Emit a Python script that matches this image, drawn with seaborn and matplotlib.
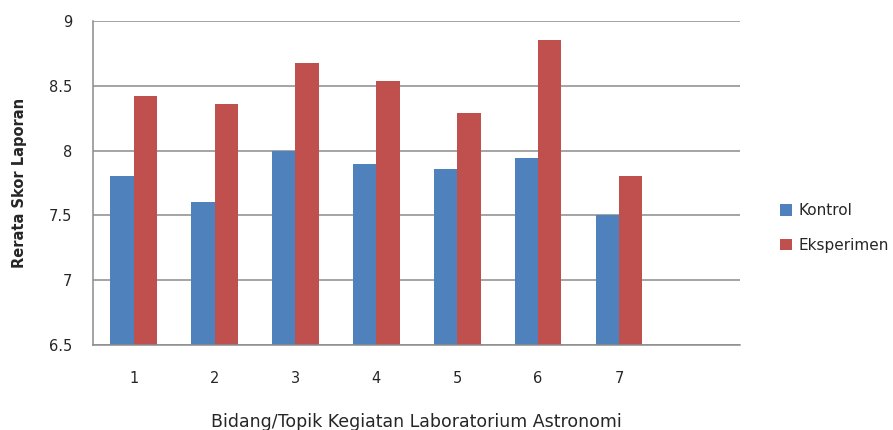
import matplotlib
matplotlib.use("Agg")
import matplotlib.pyplot as plt
import seaborn as sns
import pandas as pd
from matplotlib.patches import Patch

# Mean report scores per lab topic
topics = ["1", "2", "3", "4", "5", "6", "7"]
kontrol = [7.80, 7.60, 8.00, 7.90, 7.86, 7.94, 7.50]
eksperimen = [8.42, 8.36, 8.68, 8.54, 8.29, 8.85, 7.80]
groups = ["Kontrol", "Eksperimen"]
colors = ["#4F81BD", "#C0504D"]

df = pd.DataFrame({
    "Topik": topics * 2,
    "Skor": kontrol + eksperimen,
    "Kelompok": [groups[0]] * len(topics) + [groups[1]] * len(topics),
})

sns.set_style("white")
plt.rcParams["font.family"] = ["DejaVu Sans"]

fig = plt.figure(figsize=(8.93, 4.30), dpi=100)
ax = fig.add_axes([0.1045, 0.198, 0.7245, 0.753])

sns.barplot(data=df, x="Topik", y="Skor", hue="Kelompok", order=topics,
            hue_order=groups, palette=colors, width=0.576, saturation=1,
            edgecolor="none", ax=ax, legend=False)

ax.set_xlim(-0.5, 7.5)
ax.set_ylim(6.5, 9)
ax.set_yticks([6.5, 7, 7.5, 8, 8.5, 9])
ax.set_yticklabels(["6.5", "7", "7.5", "8", "8.5", "9"])
ax.yaxis.grid(True, color="#8C8C8C", linewidth=1.1)
ax.set_axisbelow(True)

for side in ["top", "right"]:
    ax.spines[side].set_visible(False)
for side in ["left", "bottom"]:
    ax.spines[side].set_color("#8C8C8C")
    ax.spines[side].set_linewidth(1.1)

ax.tick_params(axis="y", length=6, color="#8C8C8C", width=1.1, labelsize=10.5, pad=9)
ax.tick_params(axis="x", length=0, labelsize=10.5, pad=19)

ax.set_xlabel("Bidang/Topik Kegiatan Laboratorium Astronomi", fontsize=12.5, labelpad=19)
ax.set_ylabel("Rerata Skor Laporan", fontsize=10.5, fontweight="bold", labelpad=16)

handles = [Patch(facecolor=c, edgecolor="none") for c in colors]
fig.legend(handles, groups, loc="center left", bbox_to_anchor=(0.858, 0.47),
           frameon=False, fontsize=11, handlelength=0.8, handleheight=0.8,
           handletextpad=0.4, labelspacing=1.3)

fig.savefig("out.png", dpi=100)
